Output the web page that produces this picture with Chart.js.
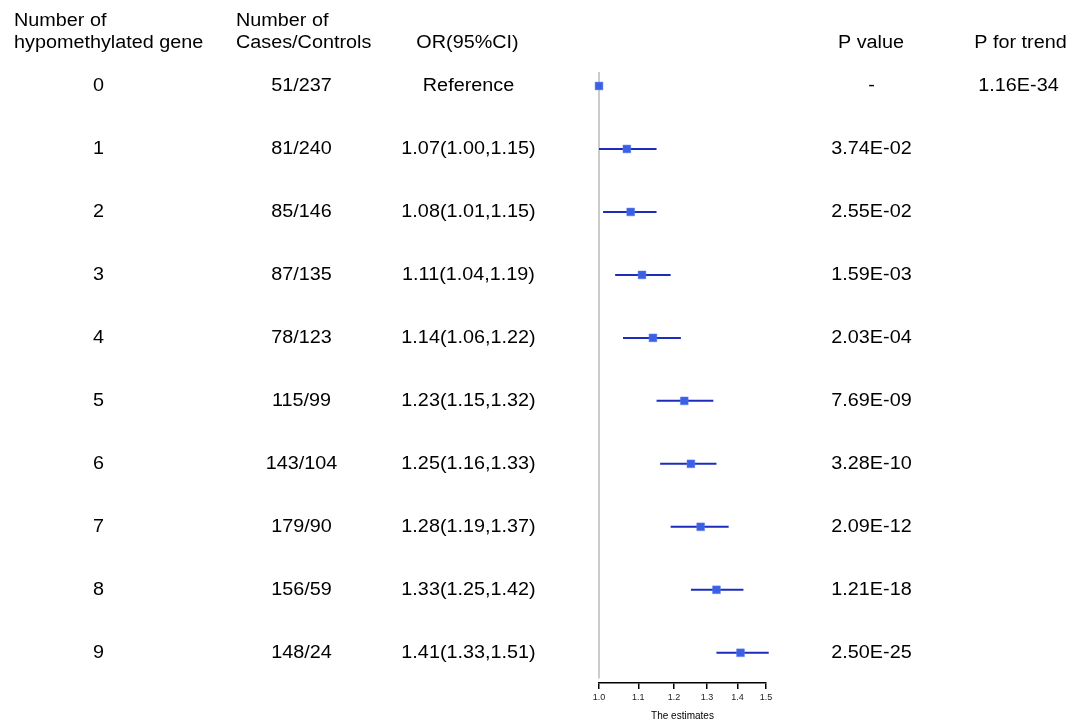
<!DOCTYPE html>
<html>
<head>
<meta charset="utf-8">
<script src="https://cdn.jsdelivr.net/npm/chart.js@4"></script>
<style>
html,body{margin:0;padding:0;background:#fff;}
#wrap{width:1084px;height:722px;position:relative;}
</style>
</head>
<body>
<div id="wrap"><canvas id="c"></canvas></div>
<script>
const genes = ['0','1','2','3','4','5','6','7','8','9'];
const casesControls = ['51/237','81/240','85/146','87/135','78/123','115/99','143/104','179/90','156/59','148/24'];
const orLabels = ['Reference','1.07(1.00,1.15)','1.08(1.01,1.15)','1.11(1.04,1.19)','1.14(1.06,1.22)','1.23(1.15,1.32)','1.25(1.16,1.33)','1.28(1.19,1.37)','1.33(1.25,1.42)','1.41(1.33,1.51)'];
const orValues = [1.00,1.07,1.08,1.11,1.14,1.23,1.25,1.28,1.33,1.41];
const ciLower = [null,1.00,1.01,1.04,1.06,1.15,1.16,1.19,1.25,1.33];
const ciUpper = [null,1.15,1.15,1.19,1.22,1.32,1.33,1.37,1.42,1.51];
const pValues = ['-','3.74E-02','2.55E-02','1.59E-03','2.03E-04','7.69E-09','3.28E-10','2.09E-12','1.21E-18','2.50E-25'];
const pTrend = ['1.16E-34'];
const xTicks = [1.0,1.1,1.2,1.3,1.4,1.5];
const refValue = 1.0;

const FONT = '"Liberation Sans", Arial, sans-serif';

const datasets = [];
datasets.push({
  type:'line',
  data:[{x:refValue,y:-0.22},{x:refValue,y:9.41}],
  borderColor:'#cccccc',borderWidth:2,pointRadius:0,clip:false,order:3
});
genes.forEach((g,i)=>{
  if(ciLower[i]==null) return;
  datasets.push({
    type:'line',
    data:[{x:ciLower[i],y:i},{x:ciUpper[i],y:i}],
    borderColor:'#1c2cbc',borderWidth:2,pointRadius:0,clip:false,order:2
  });
});
datasets.push({
  type:'scatter',
  data:orValues.map((v,i)=>({x:v,y:i})),
  pointStyle:'rect',pointRadius:5.5,pointHoverRadius:5.5,
  backgroundColor:'#3a60e6',borderColor:'#5a7cf0',borderWidth:0.5,clip:false,order:1
});

const SX = 1.1;
function txt(ctx, s, x, y, align){
  ctx.save();
  ctx.translate(x, y);
  ctx.scale(SX, 1);
  ctx.textAlign = align;
  ctx.fillText(s, 0, 0);
  ctx.restore();
}

const textPlugin = {
  id:'tableText',
  afterDraw(chart){
    const ctx = chart.ctx;
    const ys = chart.scales.y;
    ctx.save();
    ctx.fillStyle = '#000';
    ctx.font = '18px ' + FONT;
    ctx.textBaseline = 'middle';
    const h1 = ys.getPixelForValue(-1.03);
    const h2 = ys.getPixelForValue(-0.68);
    txt(ctx,'Number of', 14, h1, 'left');
    txt(ctx,'hypomethylated gene', 14, h2, 'left');
    txt(ctx,'Number of', 236, h1, 'left');
    txt(ctx,'Cases/Controls', 236, h2, 'left');
    txt(ctx,'OR(95%CI)', 467.5, h2, 'center');
    txt(ctx,'P value', 871, h2, 'center');
    txt(ctx,'P for trend', 1020.5, h2, 'center');
    genes.forEach((g,i)=>{
      const y = ys.getPixelForValue(i) + 0.5;
      txt(ctx, g, 98.5, y, 'center');
      txt(ctx, casesControls[i], 301.5, y, 'center');
      txt(ctx, orLabels[i], 468.5, y, 'center');
      txt(ctx, pValues[i], 871.5, y, 'center');
    });
    txt(ctx, pTrend[0], 1018.5, ys.getPixelForValue(0) + 0.5, 'center');
    ctx.restore();
  }
};

new Chart(document.getElementById('c'), {
  data:{datasets},
  options:{
    responsive:true,maintainAspectRatio:false,animation:false,
    layout:{padding:{left:599,right:318,top:57,bottom:0}},
    plugins:{legend:{display:false},tooltip:{enabled:false}},
    scales:{
      y:{type:'linear',min:-0.46,max:9.48,reverse:true,display:false},
      x:{
        type:'logarithmic',min:1.0,max:1.5,
        afterBuildTicks(scale){ scale.ticks = xTicks.map(v=>({value:v})); },
        afterFit(scale){ scale.height = 39; },
        ticks:{autoSkip:false,maxRotation:0,padding:3,color:'#222',font:{size:9,family:FONT},
          callback:(v)=>Number(v).toFixed(1)},
        grid:{display:true,drawOnChartArea:false,drawTicks:true,tickLength:6,color:'#000',lineWidth:1.5},
        border:{display:true,color:'#000',width:1.5},
        title:{display:true,text:'The estimates',color:'#000',font:{size:10,family:FONT},padding:{top:0,bottom:0}}
      }
    }
  },
  plugins:[textPlugin]
});
</script>
</body>
</html>
